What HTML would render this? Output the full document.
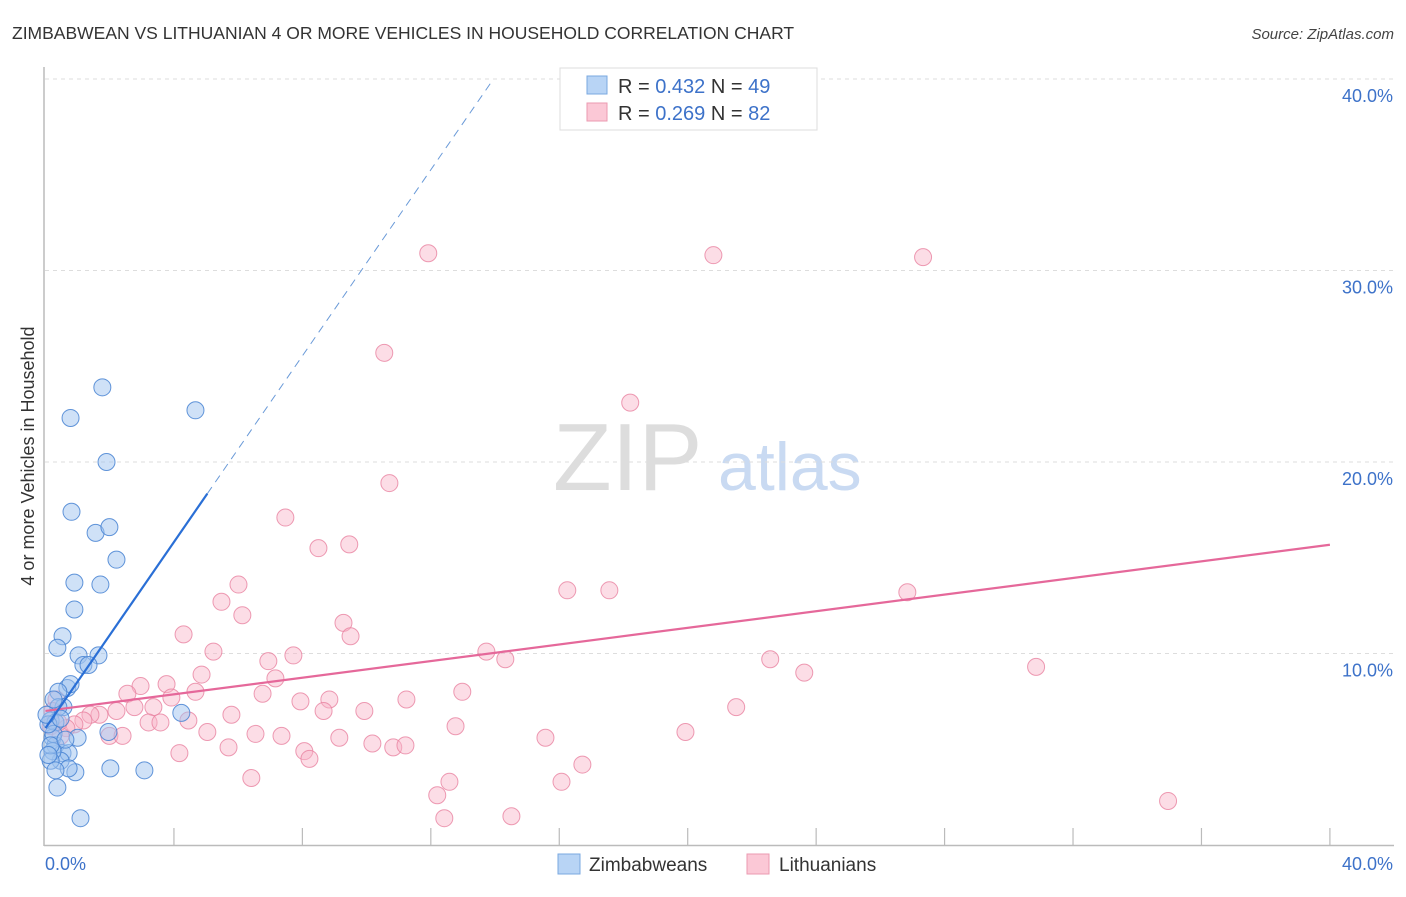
<!DOCTYPE html>
<html><head><meta charset="utf-8"><style>
body{margin:0;background:#fff;font-family:"Liberation Sans",sans-serif;}
svg text{font-family:"Liberation Sans",sans-serif;}
</style></head><body>
<svg id="chart" width="1406" height="892" xmlns="http://www.w3.org/2000/svg">
<text x="12" y="39" font-size="17.5" fill="#333">ZIMBABWEAN VS LITHUANIAN 4 OR MORE VEHICLES IN HOUSEHOLD CORRELATION CHART</text>
<text x="1394" y="39" font-size="15" fill="#444" font-style="italic" text-anchor="end">Source: ZipAtlas.com</text>
<text transform="translate(34,456) rotate(-90)" font-size="18" fill="#333" text-anchor="middle">4 or more Vehicles in Household</text>
<text x="553" y="490" font-size="96" fill="#ddd" font-family="Liberation Serif">ZIP</text>
<text x="718" y="490" font-size="68" fill="#c9daf2">atlas</text>
<g id="grid"></g><g id="marks"></g>
<g>
<rect x="560" y="68" width="257" height="62" fill="#fff" stroke="#ddd"/>
<rect x="587" y="76" width="20" height="18" fill="#b8d4f5" stroke="#7aa8e0"/>
<rect x="587" y="103" width="20" height="18" fill="#fbc8d6" stroke="#eb9ab0"/>
<text x="618" y="93" font-size="20" fill="#333">R = <tspan fill="#3d72c9">0.432</tspan>   N = <tspan fill="#3d72c9">49</tspan></text>
<text x="618" y="120" font-size="20" fill="#333">R = <tspan fill="#3d72c9">0.269</tspan>   N = <tspan fill="#3d72c9">82</tspan></text>
</g>
<g>
<rect x="558" y="854" width="22" height="20" fill="#b8d4f5" stroke="#7aa8e0"/>
<text x="589" y="871" font-size="19" fill="#333">Zimbabweans</text>
<rect x="747" y="854" width="22" height="20" fill="#fbc8d6" stroke="#eb9ab0"/>
<text x="779" y="871" font-size="19" fill="#333">Lithuanians</text>
</g>
</svg>
<script>
const xTicks=[0,4,8,12,16,20,24,28,32,36,40];
const yTicks=[10,20,30,40];
const blueX=[1.77,0.78,4.67,1.9,0.81,1.56,1.99,2.21,0.9,1.71,0.9,0.53,0.37,1.03,1.65,1.18,1.34,0.68,0.78,0.4,0.56,4.23,0.4,0.16,0.31,0.22,1.0,1.96,0.31,0.53,0.72,0.47,0.22,2.02,3.08,0.93,0.72,0.37,1.09,0.16,0.25,0.09,0.47,0.16,0.25,0.03,0.31,0.09,0.62];
const blueY=[23.9,22.3,22.7,20.0,17.4,16.3,16.6,14.9,13.7,13.6,12.3,10.9,10.3,9.9,9.9,9.4,9.4,8.2,8.4,8.0,7.2,6.9,7.2,6.5,6.4,5.6,5.6,5.9,5.2,4.8,4.8,4.4,4.9,4.0,3.9,3.8,4.0,3.0,1.4,4.4,5.8,6.3,6.6,5.2,7.6,6.8,3.9,4.7,5.5];
const pinkX=[11.92,20.8,27.33,10.55,18.21,10.71,7.47,8.5,9.46,16.25,17.56,26.84,6.01,5.48,6.13,9.28,9.5,4.3,5.23,7.72,6.94,13.73,14.32,22.57,23.63,30.85,4.86,7.16,3.77,2.96,2.55,4.67,3.92,6.76,8.84,11.24,12.98,7.94,3.36,2.77,2.21,1.68,1.4,5.79,8.66,9.93,21.51,4.45,3.21,3.58,1.18,0.9,0.65,1.99,2.4,5.04,6.54,7.35,9.15,12.77,15.57,19.93,10.18,10.83,11.21,5.7,4.17,8.06,8.22,6.41,16.72,16.07,12.58,12.2,34.96,12.42,14.51,0.34,0.22,0.16,0.47,0.4];
const pinkY=[30.9,30.8,30.7,25.7,23.1,18.9,17.1,15.5,15.7,13.3,13.3,13.2,13.6,12.7,12.0,11.6,10.9,11.0,10.1,9.9,9.6,10.1,9.7,9.7,9.0,9.3,8.9,8.7,8.4,8.3,7.9,8.0,7.7,7.9,7.6,7.6,8.0,7.5,7.2,7.2,7.0,6.8,6.8,6.8,7.0,7.0,7.2,6.5,6.4,6.4,6.5,6.3,6.1,5.7,5.7,5.9,5.8,5.7,5.6,6.2,5.6,5.9,5.3,5.1,5.2,5.1,4.8,4.9,4.5,3.5,4.2,3.3,3.3,2.6,2.3,1.4,1.5,7.6,7.0,6.2,5.7,6.4];
const blueTrend=[6.1,2.43];
const pinkTrend=[7.0,0.217];
const X=v=>45.5+v*32.11, Y=v=>845-v*19.15;
const NS="http://www.w3.org/2000/svg";
const g=document.getElementById('grid'), m=document.getElementById('marks');
function el(t,a,p){const e=document.createElementNS(NS,t);for(const k in a)e.setAttribute(k,a[k]);p.appendChild(e);return e;}
const ya=el('line',{x1:44,y1:67,x2:44,y2:846,stroke:'#bbb','stroke-width':1.5},g);


const xa=el('line',{x1:44,y1:845.5,x2:1394,y2:845.5,stroke:'#bbb','stroke-width':1.5},g);


yTicks.forEach(t=>{
 const l=el('line',{x1:45,y1:Y(t),x2:1394,y2:Y(t),stroke:'#ddd','stroke-dasharray':'4,4'},g);
 
 
 const tx=el('text',{x:1393,y:Y(t)+23,'font-size':18,fill:'#3d72c9','text-anchor':'end'},g);
 tx.textContent=t.toFixed(1)+'%';
 
 
});
xTicks.forEach(t=>{
 if(t===0)return;
 const l=el('line',{x1:X(t),y1:828,x2:X(t),y2:845,stroke:'#bbb','stroke-width':1.2},g);
 
 
});
[[0,'start',45],[40,'end',1393]].forEach(([v,a,x])=>{
 const tx=el('text',{x:x,y:870,'font-size':18,fill:'#3d72c9','text-anchor':a},g);
 tx.textContent=v.toFixed(1)+'%';
 
 
});
pinkX.forEach((v,i)=>{
 const c=el('circle',{cx:X(v),cy:Y(pinkY[i]),r:8.5,fill:'rgba(248,180,200,0.45)',stroke:'rgba(232,130,160,0.8)','stroke-width':1},m);
 
 
});
blueX.forEach((v,i)=>{
 const c=el('circle',{cx:X(v),cy:Y(blueY[i]),r:8.5,fill:'rgba(160,196,240,0.5)',stroke:'rgba(70,130,210,0.85)','stroke-width':1},m);
 
 
});
const pl=el('line',{x1:X(0),y1:Y(pinkTrend[0]),x2:X(40),y2:Y(pinkTrend[0]+40*pinkTrend[1]),stroke:'#e5689a','stroke-width':2.2},m);


const bEnd=5.04, bMax=(40-blueTrend[0])/blueTrend[1];
const bl=el('line',{x1:X(0),y1:Y(blueTrend[0]),x2:X(bEnd),y2:Y(blueTrend[0]+bEnd*blueTrend[1]),stroke:'#2a6fd6','stroke-width':2.2},m);


const bd=el('line',{x1:X(bEnd),y1:Y(blueTrend[0]+bEnd*blueTrend[1]),x2:X(bMax),y2:Y(40),stroke:'#6a9ad8','stroke-width':1,'stroke-dasharray':'8,6'},m);


</script>
</body></html>
